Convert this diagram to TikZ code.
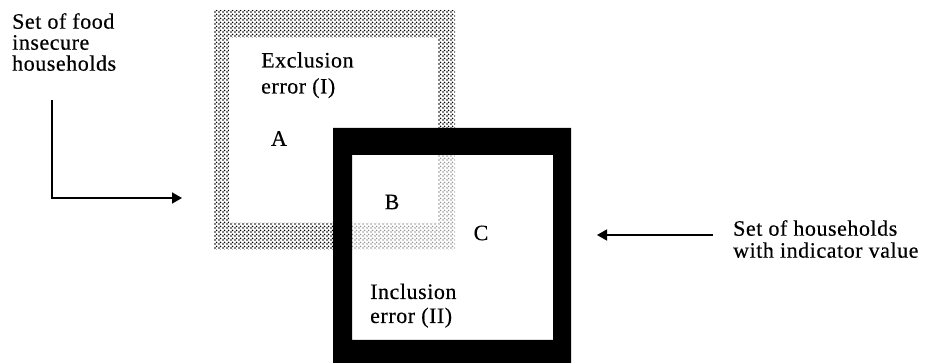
\documentclass[tikz,border=0pt]{standalone}
\usepackage{fontspec}
\setmainfont{Liberation Serif}[LetterSpace=2.5, FakeBold=0.4]
\usetikzlibrary{patterns,arrows.meta}
% coarse halftone screen
\pgfdeclarepatternformonly{halfdots}{\pgfpoint{-1.2pt}{-1.2pt}}{\pgfpoint{2.8pt}{2.8pt}}{\pgfpoint{4pt}{4pt}}{
  \pgfpathcircle{\pgfpoint{0pt}{0pt}}{1.1pt}
  \pgfpathcircle{\pgfpoint{2pt}{2pt}}{1.1pt}
  \pgfusepath{fill}}
\begin{document}
\begin{tikzpicture}[x=1pt,y=-1pt,
  lbl/.style={font=\fontsize{22}{#1}\selectfont, align=left, inner sep=0pt, anchor=north west},
  lbl/.default=22,
  letter/.style={font=\fontsize{22}{22}\selectfont, inner sep=0pt},
  halftone/.style={pattern=halfdots, pattern color=black},
  arr/.style={-{Triangle[length=10pt,width=11pt]}, line width=1.8pt}]
\useasboundingbox (0,0) rectangle (927,363);

% halftone frame: set of food insecure households
\path[halftone, even odd rule] (214,10) rectangle (455,250) (229,38) rectangle (438,223);
% the part lying inside the second set shows through more faintly
\fill[white, opacity=0.6] (352,155) rectangle (553,340);
% solid frame: set of households with indicator value
\fill[black, even odd rule] (333,128) rectangle (571,363) (352,155) rectangle (553,340);

% labels
\node[lbl=21] (foodset) at (12,13) {Set of food\\insecure\\households};
\node[lbl=26] (excl) at (261,52) {Exclusion\\error (I)};
\node[lbl=24] (incl) at (370,283.5) {Inclusion\\error (II)};
\node[lbl=22] (hhset) at (733,220) {Set of households\\with indicator value};
\node[letter] (a) at (279,138.5) {A};
\node[letter] (b) at (392,202) {B};
\node[letter] (c) at (481,233) {C};

% arrows
\coordinate (fstart) at (52,100);
\coordinate (ftip) at (182,198);
\draw[arr] (fstart) |- (ftip);
\coordinate (hstart) at (713,235);
\coordinate (htip) at (597,235);
\draw[arr, line width=1.4pt] (hstart) -- (htip);
\end{tikzpicture}
\end{document}
